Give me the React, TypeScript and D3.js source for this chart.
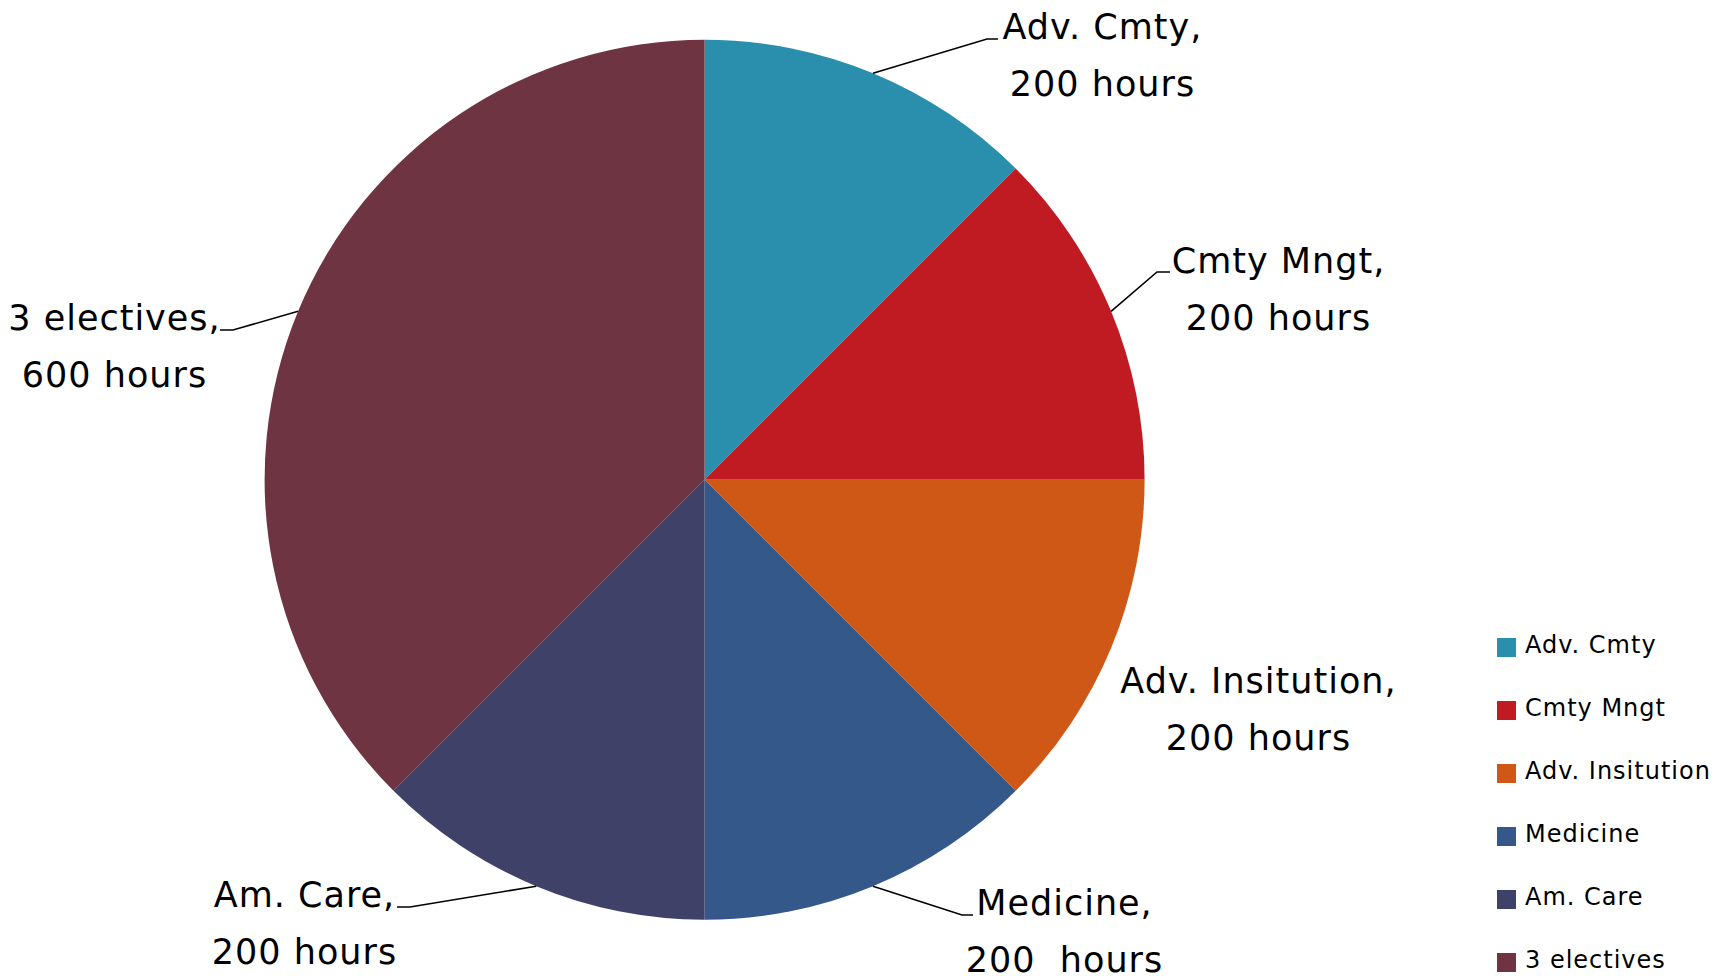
import React from "react";
import * as d3 from "d3";

const categories = ["Adv. Cmty", "Cmty Mngt", "Adv. Insitution", "Medicine", "Am. Care", "3 electives"];
const hours = [200, 200, 200, 200, 200, 600];
const colors = ["#2A8FAD", "#C01B23", "#CF5817", "#345889", "#3F4169", "#6E3441"];
const valueLabels = ["200 hours", "200 hours", "200 hours", "200  hours", "200 hours", "600 hours"];

// layout for data labels: center x of text, baseline of first line, leader elbow/end (null = no leader)
const labelLayout = [
  { cx: 1102, by: 39, elbow: [987, 39], end: [998, 39] },
  { cx: 1278, by: 273, elbow: [1157, 272], end: [1170, 272] },
  { cx: 1258, by: 693, elbow: null, end: null },
  { cx: 1064, by: 915, elbow: [962, 915], end: [973, 915] },
  { cx: 304, by: 907, elbow: [410, 907], end: [397, 907] },
  { cx: 114, by: 330, elbow: [233, 330], end: [220, 330] },
];

const W = 1729;
const H = 976;
const CX = 704.6;
const CY = 479.7;
const R = 440;
const FONT = "'DejaVu Sans', Verdana, sans-serif";

export default function App() {
  const pie = d3.pie<number>().sort(null).value((d) => d)(hours);
  const arc = d3.arc<d3.PieArcDatum<number>>().innerRadius(0).outerRadius(R);
  const edge = d3.arc<d3.PieArcDatum<number>>().innerRadius(R).outerRadius(R);

  return (
    <svg width={W} height={H} style={{ position: "absolute", left: 0, top: 0, background: "#fff" }}>
      <g transform={`translate(${CX},${CY})`}>
        {pie.map((p, i) => (
          <path key={i} d={arc(p) as string} fill={colors[i]} />
        ))}
      </g>
      {pie.map((p, i) => {
        const L = labelLayout[i];
        const [sx, sy] = edge.centroid(p);
        return (
          <g key={i}>
            {L.elbow && (
              <polyline
                points={`${CX + sx},${CY + sy} ${L.elbow[0]},${L.elbow[1]} ${L.end![0]},${L.end![1]}`}
                fill="none"
                stroke="#000"
                strokeWidth={1.6}
              />
            )}
            <text x={L.cx + 0.5} y={L.by} textAnchor="middle" fontFamily={FONT} fontSize={35} letterSpacing={1} fill="#000" style={{ whiteSpace: "pre" }}>
              {categories[i] + ","}
            </text>
            <text x={L.cx + 0.5} y={L.by + 57} textAnchor="middle" fontFamily={FONT} fontSize={35} letterSpacing={1} fill="#000" style={{ whiteSpace: "pre" }}>
              {valueLabels[i]}
            </text>
          </g>
        );
      })}
      {categories.map((c, i) => (
        <g key={c} transform={`translate(1497,${653 + i * 63})`}>
          <rect x={0} y={-15} width={19} height={19} fill={colors[i]} />
          <text x={28} y={0} fontFamily={FONT} fontSize={24} letterSpacing={1} fill="#000">
            {c}
          </text>
        </g>
      ))}
    </svg>
  );
}
